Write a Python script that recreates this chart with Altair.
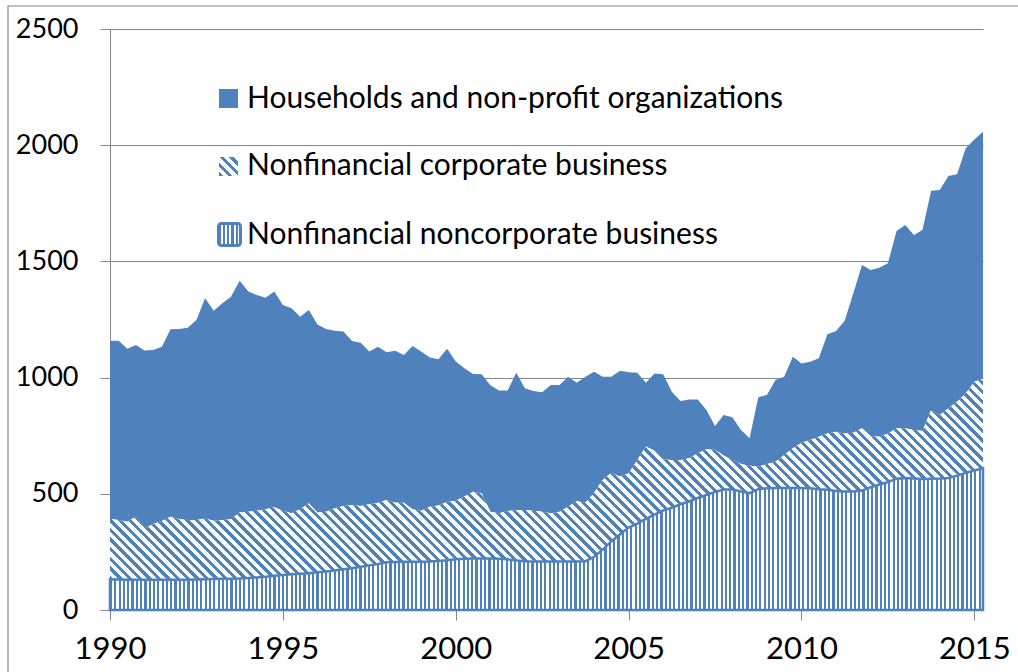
import altair as alt
import pandas as pd

# ---------------- data (quarterly, 1990Q1 .. 2015Q2) ----------------
quarters = [f"{1990 + i // 4}Q{i % 4 + 1}" for i in range(102)]

noncorporate = [
    132, 131, 130, 130, 130, 130, 130, 130, 130, 130, 131, 132, 133, 134, 135, 136,
    138, 140, 143, 147, 151, 154, 156, 158, 162, 166, 170, 175, 180, 186, 192, 198,
    205, 207, 208, 208, 208, 209, 211, 214, 218, 221, 222, 222, 222, 221, 218, 213,
    210, 209, 209, 209, 209, 209, 209, 210, 228, 260, 295, 325, 355, 372, 392, 410,
    428, 440, 455, 467, 482, 495, 508, 518, 518, 510, 503, 520, 524, 525, 525, 525,
    525, 524, 520, 517, 512, 510, 510, 514, 528, 540, 550, 565, 568, 566, 564, 565,
    566, 568, 578, 590, 600, 610,
]
corporate = [
    260, 256, 250, 271, 221, 240, 253, 271, 262, 257, 256, 262, 251, 253, 255, 283,
    285, 287, 290, 295, 276, 262, 277, 301, 257, 257, 268, 272, 272, 261, 263, 264,
    268, 255, 254, 225, 219, 235, 239, 252, 252, 267, 287, 280, 201, 195, 208, 217,
    220, 218, 214, 207, 214, 235, 260, 252, 277, 299, 296, 249, 233, 273, 311, 275,
    220, 205, 190, 186, 192, 197, 182, 147, 127, 118, 118, 97, 104, 113, 142, 171,
    195, 207, 226, 243, 255, 250, 253, 268, 221, 206, 210, 217, 214, 209, 206, 296,
    273, 300, 318, 342, 382, 385,
]
households = [
    767, 772, 744, 739, 766, 749, 750, 807, 817, 828, 861, 947, 904, 933, 958, 998,
    947, 928, 911, 928, 885, 882, 829, 832, 810, 786, 764, 751, 705, 703, 657, 671,
    636, 654, 635, 703, 685, 642, 629, 658, 599, 552, 506, 512, 544, 528, 518, 591,
    524, 515, 514, 552, 545, 560, 509, 542, 520, 445, 413, 456, 435, 376, 275, 333,
    366, 294, 254, 253, 232, 169, 102, 174, 184, 147, 118, 298, 297, 352, 337, 394,
    341, 337, 337, 426, 433, 485, 600, 702, 714, 727, 732, 849, 875, 839, 865, 943,
    968, 999, 979, 1055, 1043, 1063,
]
legend_labels = [
    "Households and non-profit organizations",
    "Nonfinancial corporate business",
    "Nonfinancial noncorporate business",
]
x_ticks = [1990, 1995, 2000, 2005, 2010, 2015]
y_ticks = [0, 500, 1000, 1500, 2000, 2500]

df = pd.DataFrame({
    "quarter": quarters,
    "noncorp": noncorporate,
    "corp": corporate,
    "hh": households,
})

# ---------------- style ----------------
BLUE = "#4F81BD"
GRAY = "#868686"
FONT = "Lato"
W, H = 873, 581
Y_MAX = 2500
X_MIN, X_MAX = 1990, 2015.25


def vertical_stripes(width_px, period=4.3, blue_frac=0.5):
    stops = []
    k = 0
    while True:
        o0 = k * period / width_px
        if o0 >= 1:
            break
        o1 = min(1.0, (k * period + blue_frac * period) / width_px)
        o2 = min(1.0, (k + 1) * period / width_px)
        stops += [{"offset": o0, "color": BLUE}, {"offset": o1, "color": BLUE},
                  {"offset": o1, "color": "white"}, {"offset": o2, "color": "white"}]
        k += 1
    return {"gradient": "linear", "x1": 0, "y1": 0, "x2": 1, "y2": 0, "stops": stops}


def diagonal_stripes(w_px, h_px, period=6.8, blue_frac=0.45):
    # stripes running top-left -> bottom-right at 45 degrees on screen
    s = (w_px + h_px) / (w_px ** 2 + h_px ** 2)
    span = (w_px + h_px) / 2 ** 0.5
    stops = []
    k = 0
    while True:
        o0 = k * period / span
        if o0 >= 1:
            break
        o1 = min(1.0, (k * period + blue_frac * period) / span)
        o2 = min(1.0, (k + 1) * period / span)
        stops += [{"offset": o0, "color": BLUE}, {"offset": o1, "color": BLUE},
                  {"offset": o1, "color": "white"}, {"offset": o2, "color": "white"}]
        k += 1
    return {"gradient": "linear", "x1": 0, "y1": 1, "x2": s * w_px, "y2": 1 - s * h_px,
            "stops": stops}


# bounding box of the corporate band (in pixels) to keep the hatch at 45 degrees
c_top = [a + b for a, b in zip(noncorporate, corporate)]
band_h = (max(c_top) - min(noncorporate)) * H / Y_MAX

base = alt.Chart(df).transform_calculate(
    t="toNumber(slice(datum.quarter, 0, 4)) + (toNumber(slice(datum.quarter, 5, 6)) - 1) / 4",
    n_top="datum.noncorp",
    c_top="datum.noncorp + datum.corp",
    h_top="datum.noncorp + datum.corp + datum.hh",
)

x_enc = alt.X(
    "t:Q",
    scale=alt.Scale(domain=[X_MIN, X_MAX], nice=False, zero=False),
    axis=alt.Axis(values=x_ticks, format="d", title=None, grid=False, tickSize=10,
                  labelFontSize=31, labelPadding=14, labelFont=FONT,
                  domainColor=GRAY, tickColor=GRAY, labelColor="black", labelFlush=False),
)
y_scale = alt.Scale(domain=[0, Y_MAX], nice=False)

hh_area = base.mark_area(color=BLUE, opacity=1).encode(
    x=x_enc,
    y=alt.Y("h_top:Q", scale=y_scale,
            axis=alt.Axis(values=y_ticks, format="d", title=None, grid=True, gridColor=GRAY,
                          gridWidth=1, tickSize=10, labelFontSize=27, labelPadding=22,
                          labelFont=FONT, domainColor=GRAY, tickColor=GRAY,
                          labelColor="black")),
    y2="c_top:Q",
)
corp_area = base.mark_area(fill=diagonal_stripes(W, band_h), opacity=1).encode(
    x="t:Q", y="c_top:Q", y2="n_top:Q",
)
noncorp_area = base.mark_area(fill=vertical_stripes(W), stroke=BLUE, strokeWidth=2.5,
                              opacity=1).encode(
    x="t:Q", y="n_top:Q",
)

one = alt.Data(values=[{"k": 1}])

frame = alt.Chart(one).mark_rect(fill=None, stroke=GRAY, strokeWidth=1.2).encode(
    x=alt.value(-102), x2=alt.value(1100), y=alt.value(-23), y2=alt.value(700)
)

sym_hh = alt.Chart(one).mark_rect(color=BLUE).encode(
    x=alt.value(109), x2=alt.value(128), y=alt.value(60), y2=alt.value(79)
)
sym_corp = alt.Chart(one).mark_rect(fill=diagonal_stripes(19, 19, period=6.8)).encode(
    x=alt.value(109), x2=alt.value(128), y=alt.value(128), y2=alt.value(147)
)
sym_nc = alt.Chart(one).mark_rect(fill=vertical_stripes(22, period=4.3), stroke=BLUE,
                                  strokeWidth=3, cornerRadius=3).encode(
    x=alt.value(108.5), x2=alt.value(130.5), y=alt.value(194.5), y2=alt.value(216.5)
)


def legend_text(label, y):
    return alt.Chart(one).mark_text(align="left", baseline="middle", font=FONT, fontSize=30,
                                    color="black").encode(
        x=alt.value(137), y=alt.value(y), text=alt.value(label)
    )


chart = alt.layer(
    frame, hh_area, corp_area, noncorp_area,
    sym_hh, sym_corp, sym_nc,
    legend_text(legend_labels[0], 70),
    legend_text(legend_labels[1], 137),
    legend_text(legend_labels[2], 206),
).properties(
    width=W, height=H,
    autosize=alt.AutoSizeParams(type="none"),
    padding={"left": 110, "top": 29, "right": 35, "bottom": 62},
    background="white",
).configure_view(stroke=None)

chart.save("out.html", embed_options={"renderer": "svg", "actions": False})
